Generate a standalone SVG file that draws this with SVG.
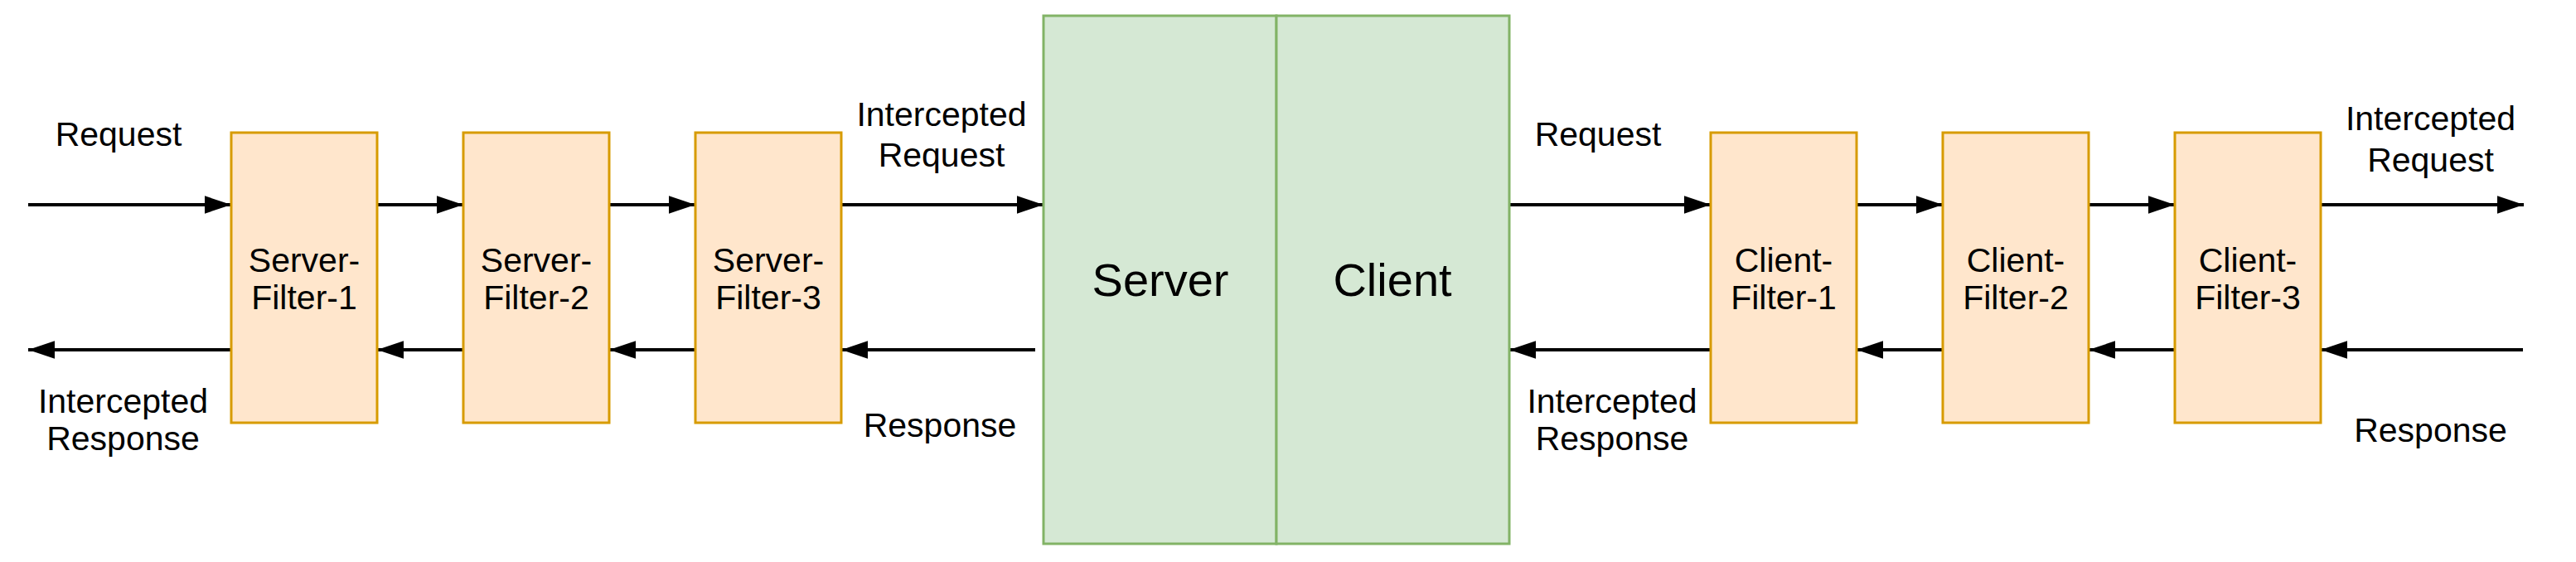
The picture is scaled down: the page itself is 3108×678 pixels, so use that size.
<svg xmlns="http://www.w3.org/2000/svg" width="3108" height="678" viewBox="0 0 3108 678">
<style>
.filter{fill:#ffe6cc;stroke:#d79b00;stroke-width:3}
.side{fill:#d5e8d4;stroke:#82b366;stroke-width:3}
.t{font-family:"Liberation Sans",Arial,Helvetica,sans-serif;font-size:41px;fill:#000;text-anchor:middle}
.big{font-size:56px}
.conn{stroke:#000;stroke-width:4;fill:none;marker-end:url(#arr)}
</style>
<defs>
<marker id="arr" markerUnits="userSpaceOnUse" markerWidth="32" markerHeight="22" refX="30" refY="10" orient="auto" viewBox="0 0 30 20">
<path d="M0,0 L30,10 L0,20 Z" fill="#000"/>
</marker>
</defs>
<rect width="3108" height="678" fill="#fff"/>
<g id="connectors">
<line class="conn" x1="34" y1="247" x2="279" y2="247"/>
<line class="conn" x1="455" y1="247" x2="559" y2="247"/>
<line class="conn" x1="735" y1="247" x2="839" y2="247"/>
<line class="conn" x1="1015" y1="247" x2="1259" y2="247"/>
<line class="conn" x1="1821" y1="247" x2="2064" y2="247"/>
<line class="conn" x1="2240" y1="247" x2="2344" y2="247"/>
<line class="conn" x1="2520" y1="247" x2="2624" y2="247"/>
<line class="conn" x1="2800" y1="247" x2="3045" y2="247"/>
<line class="conn" x1="279" y1="422" x2="34" y2="422"/>
<line class="conn" x1="559" y1="422" x2="455" y2="422"/>
<line class="conn" x1="839" y1="422" x2="735" y2="422"/>
<line class="conn" x1="1249" y1="422" x2="1015" y2="422"/>
<line class="conn" x1="2064" y1="422" x2="1821" y2="422"/>
<line class="conn" x1="2344" y1="422" x2="2240" y2="422"/>
<line class="conn" x1="2624" y1="422" x2="2520" y2="422"/>
<line class="conn" x1="3044" y1="422" x2="2800" y2="422"/>
</g>
<g id="server">
<rect class="side" x="1259" y="19" width="281" height="637"/>
<text class="t big" x="1400" y="357">Server</text>
</g>
<g id="client">
<rect class="side" x="1540" y="19" width="281" height="637"/>
<text class="t big" x="1680" y="357">Client</text>
</g>
<g id="server-filter-1">
<rect class="filter" x="279" y="160" width="176" height="350"/>
<text class="t" x="367" y="327.7">Server-</text>
<text class="t" x="367" y="373.3">Filter-1</text>
</g>
<g id="server-filter-2">
<rect class="filter" x="559" y="160" width="176" height="350"/>
<text class="t" x="647" y="327.7">Server-</text>
<text class="t" x="647" y="373.3">Filter-2</text>
</g>
<g id="server-filter-3">
<rect class="filter" x="839" y="160" width="176" height="350"/>
<text class="t" x="927" y="327.7">Server-</text>
<text class="t" x="927" y="373.3">Filter-3</text>
</g>
<g id="client-filter-1">
<rect class="filter" x="2064" y="160" width="176" height="350"/>
<text class="t" x="2152" y="327.7">Client-</text>
<text class="t" x="2152" y="373.3">Filter-1</text>
</g>
<g id="client-filter-2">
<rect class="filter" x="2344" y="160" width="176" height="350"/>
<text class="t" x="2432" y="327.7">Client-</text>
<text class="t" x="2432" y="373.3">Filter-2</text>
</g>
<g id="client-filter-3">
<rect class="filter" x="2624" y="160" width="176" height="350"/>
<text class="t" x="2712" y="327.7">Client-</text>
<text class="t" x="2712" y="373.3">Filter-3</text>
</g>
<g id="labels">
<text class="t" x="143" y="175.7">Request</text>
<text class="t" x="148.5" y="498.3">Intercepted</text>
<text class="t" x="148.5" y="543.3">Response</text>
<text class="t" x="1136" y="151.7">Intercepted</text>
<text class="t" x="1136" y="200.7">Request</text>
<text class="t" x="1134" y="526.7">Response</text>
<text class="t" x="1928" y="175.7">Request</text>
<text class="t" x="1945" y="498.3">Intercepted</text>
<text class="t" x="1945" y="543.3">Response</text>
<text class="t" x="2932.5" y="156.7">Intercepted</text>
<text class="t" x="2932.5" y="207.3">Request</text>
<text class="t" x="2932.5" y="533.3">Response</text>
</g>
</svg>
